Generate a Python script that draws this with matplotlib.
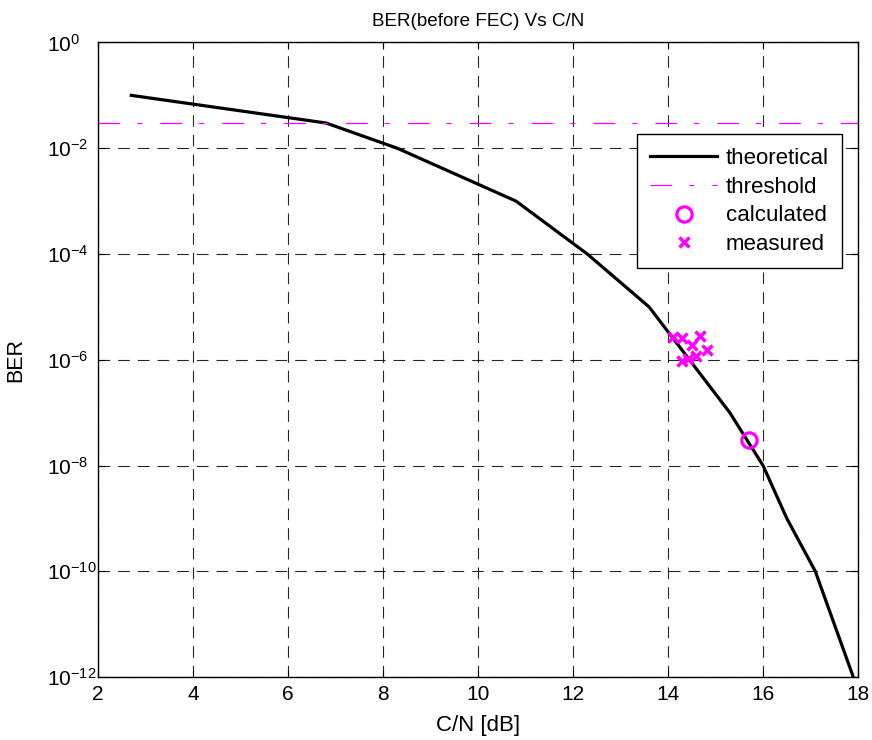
import numpy as np
import matplotlib
matplotlib.use("Agg")
import matplotlib.pyplot as plt
from matplotlib.ticker import NullLocator

plt.rcParams['font.family'] = ['Liberation Sans', 'DejaVu Sans']
plt.rcParams['mathtext.fontset'] = 'custom'
plt.rcParams['mathtext.rm'] = 'Liberation Sans'

# theoretical BER curve (C/N in dB)
cn_theory = [2.7, 6.8, 8.3, 10.8, 12.3, 13.6, 15.3, 16.0, 16.5, 17.1, 17.9]
ber_theory = [1e-1, 3e-2, 1e-2, 1e-3, 1e-4, 1e-5, 1e-7, 1e-8, 1e-9, 1e-10, 1e-12]

# BER threshold before FEC
ber_threshold = 3e-2

# calculated operating point
cn_calc = [15.7]
ber_calc = [3.1e-8]

# measured points
cn_meas = [14.10, 14.29, 14.68, 14.50, 14.81, 14.59, 14.41, 14.29]
ber_meas = [2.7e-6, 2.6e-6, 2.8e-6, 1.9e-6, 1.5e-6, 1.2e-6, 1.05e-6, 9.3e-7]

# axis ticks
x_ticks = [2, 4, 6, 8, 10, 12, 14, 16, 18]
y_exponents = [0, -2, -4, -6, -8, -10, -12]

fig = plt.figure(figsize=(8.72, 7.4), dpi=100)
ax = fig.add_axes([0.1124, 0.0851, 0.8716, 0.8575])

ax.semilogy(cn_theory, ber_theory, color='black', linewidth=2.3, label='theoretical')
ax.axhline(ber_threshold, color='magenta', linewidth=0.9,
           dashes=(17.4, 13.6, 4, 14.5), label='threshold')
ax.semilogy(cn_calc, ber_calc, linestyle='none', marker='o', markersize=11,
            markerfacecolor='none', markeredgecolor='magenta', markeredgewidth=2.3,
            label='calculated')
ax.semilogy(cn_meas, ber_meas, linestyle='none', marker='x', markersize=6.5,
            color='magenta', markeredgewidth=2.5, label='measured')

ax.set_xlim(2, 18)
ax.set_ylim(1e-12, 1)
ax.set_xticks(x_ticks)
ax.set_yticks([10.0 ** e for e in y_exponents])
ax.set_yticklabels([r'$\mathdefault{10^{%d}}$' % e for e in y_exponents],
                   ha='left')
ax.yaxis.set_minor_locator(NullLocator())

ax.grid(True, color='black', linestyle=(0, (10.5, 7.2)), linewidth=0.8, alpha=0.85)
ax.tick_params(which='both', direction='in', top=True, right=True,
               labelsize=15, length=5, width=0.8)
ax.tick_params(axis='x', pad=6)
ax.tick_params(axis='y', pad=36.5)
for sp in ax.spines.values():
    sp.set_linewidth(1.0)

ax.set_title('BER(before FEC) Vs C/N', fontsize=13.6, pad=12)
ax.set_xlabel('C/N [dB]', fontsize=16, labelpad=8)
ax.set_ylabel('BER', fontsize=15.5)
ax.yaxis.set_label_coords(-0.094, 0.5)

leg = ax.legend(loc='upper right', bbox_to_anchor=(0.979, 0.855), borderaxespad=0,
                fontsize=16, handlelength=3.0, handletextpad=0.4, fancybox=False,
                framealpha=1, edgecolor='black', labelspacing=0.35, borderpad=0.6)
leg.get_frame().set_linewidth(1.0)

fig.savefig('out.png', dpi=100)
